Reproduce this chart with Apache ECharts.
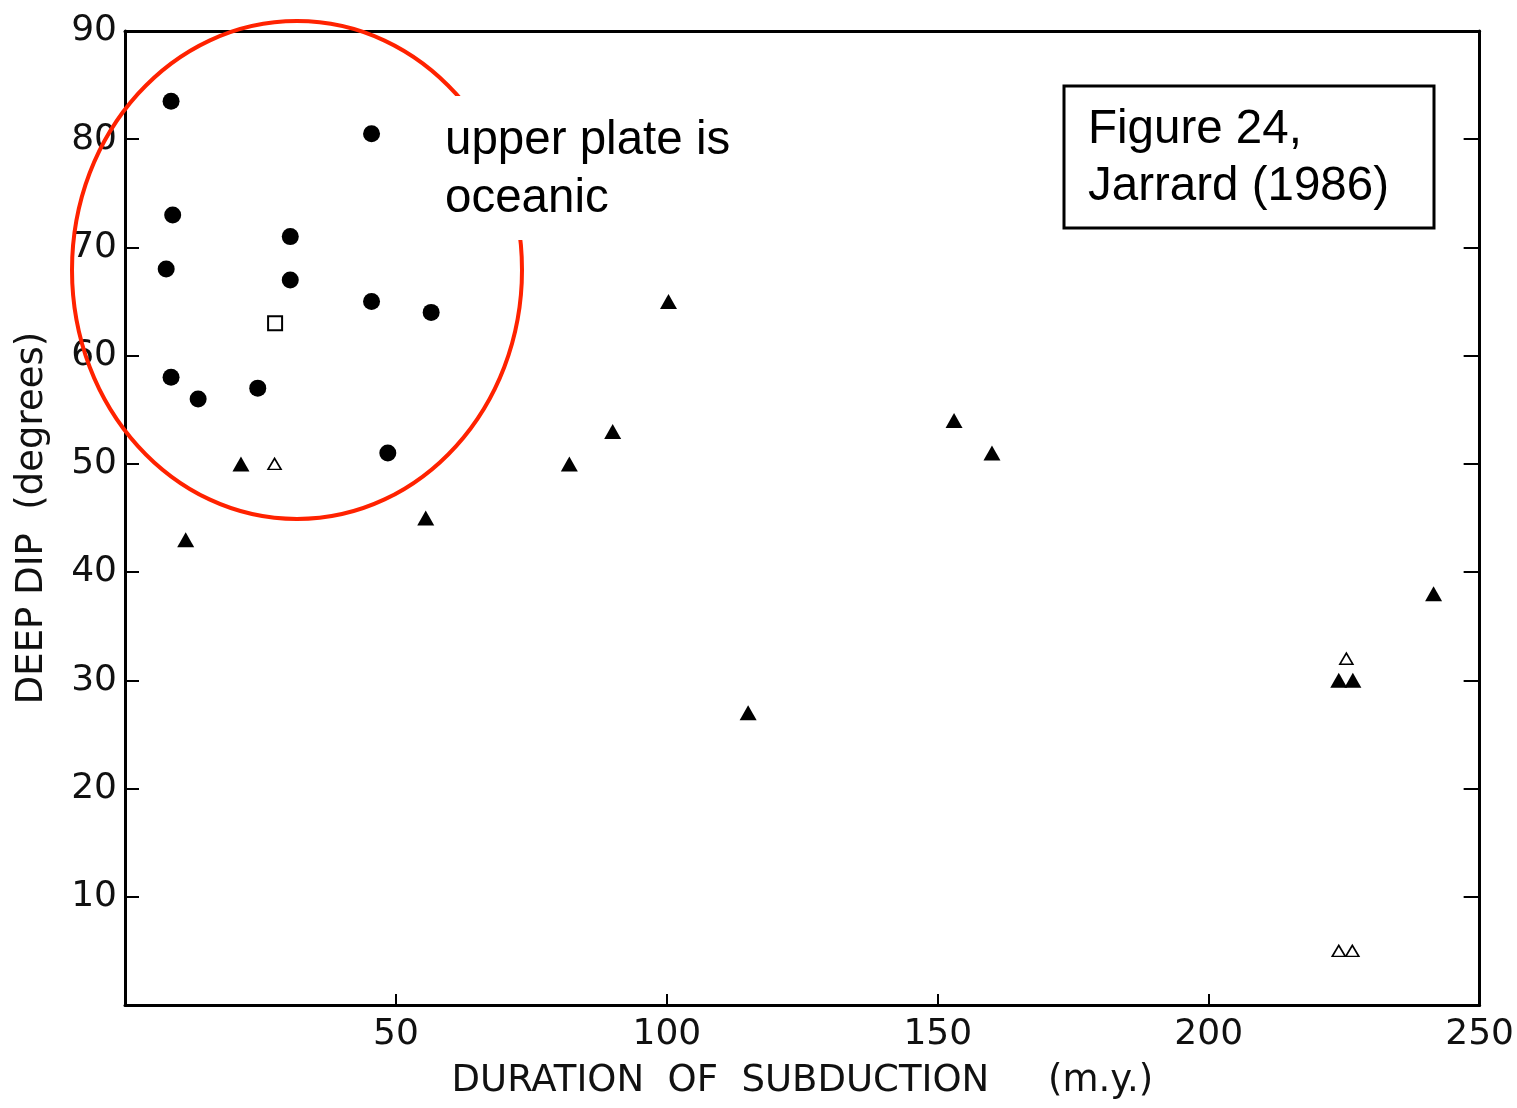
<!DOCTYPE html>
<html>
<head>
<meta charset="utf-8">
<script src="https://cdn.jsdelivr.net/npm/echarts@6/dist/echarts.min.js"></script>
<style>
html,body{margin:0;padding:0;background:#fff;}
#chart{width:1517px;height:1108px;}
</style>
</head>
<body>
<div id="chart"></div>
<script>
// Duration of subduction (m.y.) vs deep dip (degrees)
const filledCircleX = [8.5, 45.5, 8.8, 30.5, 7.6, 30.5, 45.5, 56.5, 8.5, 13.5, 24.5, 48.5];
const filledCircleY = [83.5, 80.5, 73, 71, 68, 67, 65, 64, 58, 56, 57, 51];
const openSquareX = [27.7];
const openSquareY = [63];
const filledTriangleX = [11.2, 21.4, 55.5, 82, 90, 100.3, 115, 153, 160, 224, 226.6, 241.5];
const filledTriangleY = [43, 50, 45, 50, 53, 65, 27, 54, 51, 30, 30, 38];
const openTriangleX = [27.6, 225.4, 224, 226.5];
const openTriangleY = [50, 32, 5, 5];
const xTicks = [0, 50, 100, 150, 200, 250];
const yTicks = [0, 10, 20, 30, 40, 50, 60, 70, 80, 90];

const pair = (xs, ys) => xs.map((x, i) => [x, ys[i]]);
const scanFont = 'DejaVu Sans';

const chart = echarts.init(document.getElementById('chart'));
const labelFmt = v => (v === 0 ? '' : String(v));

chart.setOption({
  backgroundColor: '#ffffff',
  animation: false,
  grid: { left: 125, right: 33, top: 31, bottom: 103 },
  xAxis: [
    {
      type: 'value', position: 'bottom',
      min: xTicks[0], max: xTicks[xTicks.length - 1], interval: 50,
      name: 'DURATION  OF  SUBDUCTION     (m.y.)',
      nameLocation: 'middle', nameGap: 58,
      nameTextStyle: { fontFamily: scanFont, fontSize: 37, color: '#111' },
      axisLine: { show: true, onZero: false, lineStyle: { color: '#000', width: 3 } },
      axisTick: { show: true, inside: true, length: 11, lineStyle: { color: '#000', width: 2 } },
      axisLabel: { formatter: labelFmt, fontFamily: scanFont, fontSize: 36, color: '#111', margin: 12 },
      splitLine: { show: false }
    },
    {
      type: 'value', position: 'top',
      min: xTicks[0], max: xTicks[xTicks.length - 1], interval: 50,
      axisLine: { show: true, onZero: false, lineStyle: { color: '#000', width: 3 } },
      axisTick: { show: false },
      axisLabel: { show: false },
      splitLine: { show: false }
    }
  ],
  yAxis: [
    {
      type: 'value', position: 'left',
      min: yTicks[0], max: yTicks[yTicks.length - 1], interval: 10,
      name: 'DEEP DIP  (degrees)',
      nameLocation: 'middle', nameGap: 74, nameRotate: 90,
      nameTextStyle: { fontFamily: scanFont, fontSize: 37, color: '#111' },
      axisLine: { show: true, onZero: false, lineStyle: { color: '#000', width: 3 } },
      axisTick: { show: true, inside: true, length: 14, lineStyle: { color: '#000', width: 2 } },
      axisLabel: { formatter: labelFmt, fontFamily: scanFont, fontSize: 36, color: '#111', margin: 8 },
      splitLine: { show: false }
    },
    {
      type: 'value', position: 'right',
      min: yTicks[0], max: yTicks[yTicks.length - 1], interval: 10,
      axisLine: { show: true, onZero: false, lineStyle: { color: '#000', width: 3 } },
      axisTick: { show: true, inside: true, length: 16, lineStyle: { color: '#000', width: 2 } },
      axisLabel: { show: false },
      splitLine: { show: false }
    }
  ],
  series: [
    {
      type: 'scatter', xAxisIndex: 0, yAxisIndex: 0,
      data: pair(filledCircleX, filledCircleY),
      symbol: 'circle', symbolSize: 17,
      itemStyle: { color: '#000', opacity: 1 }
    },
    {
      type: 'scatter', xAxisIndex: 0, yAxisIndex: 0,
      data: pair(openSquareX, openSquareY),
      symbol: 'rect', symbolSize: 14,
      itemStyle: { color: '#fff', borderColor: '#000', borderWidth: 2, opacity: 1 }
    },
    {
      type: 'scatter', xAxisIndex: 0, yAxisIndex: 0,
      data: pair(filledTriangleX, filledTriangleY),
      symbol: 'triangle', symbolSize: [17, 15],
      itemStyle: { color: '#000', opacity: 1 }
    },
    {
      type: 'scatter', xAxisIndex: 0, yAxisIndex: 0,
      data: pair(openTriangleX, openTriangleY),
      symbol: 'triangle', symbolSize: [13, 11],
      itemStyle: { color: '#fff', borderColor: '#000', borderWidth: 1.6, opacity: 1 }
    }
  ],
  graphic: [
    {
      type: 'ellipse', z: 100,
      shape: { cx: 297, cy: 270, rx: 225, ry: 249 },
      style: { fill: null, stroke: '#ff2200', lineWidth: 4 }
    },
    {
      type: 'text', z: 101, x: 439, y: 96,
      style: {
        text: 'upper plate is\noceanic',
        font: '47.5px "Liberation Sans", Arial, sans-serif',
        fill: '#000', lineHeight: 58,
        align: 'left', verticalAlign: 'top',
        backgroundColor: '#fff',
        padding: [16, 12, 12, 6]
      }
    },
    {
      type: 'rect', z: 100,
      shape: { x: 1064, y: 86, width: 370, height: 142 },
      style: { fill: '#fff', stroke: '#000', lineWidth: 3 }
    },
    {
      type: 'text', z: 101, x: 1088, y: 101,
      style: {
        text: 'Figure 24,\nJarrard (1986)',
        font: '47.5px "Liberation Sans", Arial, sans-serif',
        fill: '#000', lineHeight: 57,
        align: 'left', verticalAlign: 'top'
      }
    }
  ]
});
</script>
</body>
</html>
